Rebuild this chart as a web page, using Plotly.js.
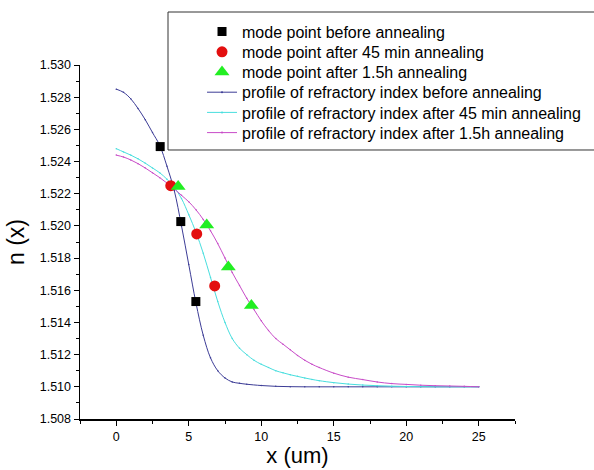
<!DOCTYPE html>
<html>
<head>
<meta charset="utf-8">
<script src="https://cdn.plot.ly/plotly-3.0.1.min.js"></script>
<style>html,body{margin:0;padding:0;background:#fff;}#chart{width:594px;height:470px;}</style>
</head>
<body>
<div id="chart"></div>
<script>
// Mode points
const sqX = [3.03, 4.45, 5.49];
const sqY = [1.52493, 1.52027, 1.51530];
const ciX = [3.76, 5.55, 6.79];
const ciY = [1.52250, 1.51950, 1.51627];
const trX = [4.27, 6.24, 7.73, 9.32];
const trY = [1.52245, 1.52005, 1.51745, 1.51505];

// Refractive index profiles
const profBeforeX = [0, 0.5, 1, 1.5, 2, 2.5, 3, 3.5, 4, 4.5, 5, 5.5, 6, 6.5, 7, 7.5, 8, 8.5, 9, 10, 11, 12, 13, 14, 15, 16, 17, 18, 19, 20, 21, 22, 23, 24, 25];
const profBeforeY = [1.5285, 1.5283, 1.5279, 1.5273, 1.5266, 1.5258, 1.5250, 1.5237, 1.5222, 1.5200, 1.5176, 1.5152, 1.5132, 1.5118, 1.5110, 1.51055, 1.5103, 1.51022, 1.51016, 1.51008, 1.51003, 1.51001, 1.5100, 1.5100, 1.5100, 1.5100, 1.5100, 1.5100, 1.5100, 1.5100, 1.5100, 1.5100, 1.5100, 1.5100, 1.5100];
const prof45X = [0, 0.5, 1, 1.5, 2, 2.5, 3, 3.5, 4, 4.5, 5, 5.5, 6, 6.5, 7, 7.5, 8, 8.5, 9, 9.5, 10, 10.5, 11, 11.5, 12, 12.5, 13, 13.5, 14, 15, 16, 17, 18, 19, 20, 21, 22, 23, 24, 25];
const prof45Y = [1.5248, 1.5246, 1.5244, 1.52417, 1.5239, 1.5236, 1.5233, 1.5229, 1.5224, 1.5217, 1.5207, 1.5196, 1.5183, 1.5168, 1.5153, 1.5140, 1.5130, 1.5124, 1.5120, 1.51165, 1.5114, 1.5112, 1.5110, 1.51087, 1.51075, 1.51065, 1.51055, 1.51046, 1.51038, 1.51026, 1.51017, 1.51011, 1.51007, 1.51004, 1.51002, 1.51001, 1.5100, 1.5100, 1.5100, 1.5100];
const prof15X = [0, 0.5, 1, 1.5, 2, 2.5, 3, 3.5, 4, 4.5, 5, 5.5, 6, 6.5, 7, 7.5, 8, 8.5, 9, 9.5, 10, 10.5, 11, 11.5, 12, 12.5, 13, 13.5, 14, 15, 16, 17, 18, 19, 20, 21, 22, 23, 24, 25];
const prof15Y = [1.5244, 1.52428, 1.5241, 1.52387, 1.5236, 1.5233, 1.5230, 1.52266, 1.5223, 1.5219, 1.5215, 1.5210, 1.5204, 1.5197, 1.5189, 1.5180, 1.5171, 1.5163, 1.5155, 1.5148, 1.5141, 1.5135, 1.5130, 1.51265, 1.5123, 1.51195, 1.51165, 1.5114, 1.5112, 1.51085, 1.5106, 1.51045, 1.5103, 1.5102, 1.51015, 1.5101, 1.51007, 1.51005, 1.51003, 1.5100];

const legendNames = [
  'mode point before annealing',
  'mode point after 45 min annealing',
  'mode point after 1.5h annealing',
  'profile of refractory index before annealing',
  'profile of refractory index after 45 min annealing',
  'profile of refractory index after 1.5h annealing'
];

const cNavy = '#3c3c96', cCyan = '#48dede', cMag = '#c84cc8';
const fam = '"Liberation Sans", Arial, sans-serif';

const curves = [
  {x: profBeforeX, y: profBeforeY, name: legendNames[3], legend: 'legend4', mode: 'lines+markers', type: 'scatter',
   line: {color: cNavy, width: 1, shape: 'spline', smoothing: 1}, marker: {size: 1.5, color: cNavy}},
  {x: prof45X, y: prof45Y, name: legendNames[4], legend: 'legend5', mode: 'lines+markers', type: 'scatter',
   line: {color: cCyan, width: 1, shape: 'spline', smoothing: 1}, marker: {size: 1.5, color: cCyan}},
  {x: prof15X, y: prof15Y, name: legendNames[5], legend: 'legend6', mode: 'lines+markers', type: 'scatter',
   line: {color: cMag, width: 1, shape: 'spline', smoothing: 1}, marker: {size: 1.5, color: cMag}}
];
const points = [
  {x: sqX, y: sqY, name: legendNames[0], legend: 'legend', mode: 'markers', type: 'scatter',
   marker: {symbol: 'square', size: 9, color: '#000000'}},
  {x: ciX, y: ciY, name: legendNames[1], legend: 'legend2', mode: 'markers', type: 'scatter',
   marker: {symbol: 'circle', size: 11, color: '#e30f0f'}},
  {x: trX, y: trY, name: legendNames[2], legend: 'legend3', mode: 'markers', type: 'scatter',
   marker: {symbol: 'triangle-up', size: 13, color: '#22ee22'}}
];

// legend rows (pixel centres) converted to paper coords of a 354px tall plot whose bottom is at 419px
const rowPx = [31.7, 51.9, 72.1, 92.3, 112.5, 132.7];
function leg(i) {
  return {
    x: 0.2805, xanchor: 'left', y: (419 - rowPx[i]) / 354, yanchor: 'middle',
    borderwidth: 0, bgcolor: 'rgba(255,255,255,0)',
    font: {family: fam, size: 16, color: '#000'}
  };
}

const layout = {
  width: 594, height: 470,
  margin: {l: 80, r: 79, t: 65, b: 51, autoexpand: false},
  paper_bgcolor: '#fff', plot_bgcolor: '#fff',
  font: {family: fam, color: '#000'},
  showlegend: true,
  legend: leg(0), legend2: leg(1), legend3: leg(2), legend4: leg(3), legend5: leg(4), legend6: leg(5),
  shapes: [{type: 'rect', xref: 'paper', yref: 'paper', layer: 'above',
            x0: 0.2023, x1: 1.25, y0: 0.7599, y1: 1.1497,
            line: {color: '#333', width: 1}, fillcolor: 'rgba(0,0,0,0)'}],
  xaxis: {
    range: [-2.5, 27.5], dtick: 5, tick0: 0,
    showgrid: false, zeroline: false,
    showline: true, linecolor: '#000', linewidth: 1.5, mirror: false,
    ticks: 'outside', ticklen: 5, tickwidth: 1, tickcolor: '#000',
    minor: {dtick: 2.5, tick0: 0, ticks: 'outside', ticklen: 3, tickcolor: '#000', showgrid: false},
    tickfont: {family: fam, size: 12.5, color: '#000'},
    title: {text: 'x (um)', font: {family: fam, size: 22, color: '#000'}, standoff: 2}
  },
  yaxis: {
    range: [1.508, 1.530], dtick: 0.002, tick0: 1.508, tickformat: '.3f',
    showgrid: false, zeroline: false,
    showline: true, linecolor: '#000', linewidth: 1.5, mirror: false,
    ticks: 'outside', ticklen: 5, tickwidth: 1, tickcolor: '#000',
    minor: {dtick: 0.001, ticks: 'outside', ticklen: 3, tickcolor: '#000', showgrid: false},
    tickfont: {family: fam, size: 12.5, color: '#000'},
    title: {text: 'n (x)', font: {family: fam, size: 23, color: '#000'}, standoff: 8}
  }
};

Plotly.newPlot('chart', curves.concat(points), layout, {displayModeBar: false, staticPlot: true});
</script>
</body>
</html>
